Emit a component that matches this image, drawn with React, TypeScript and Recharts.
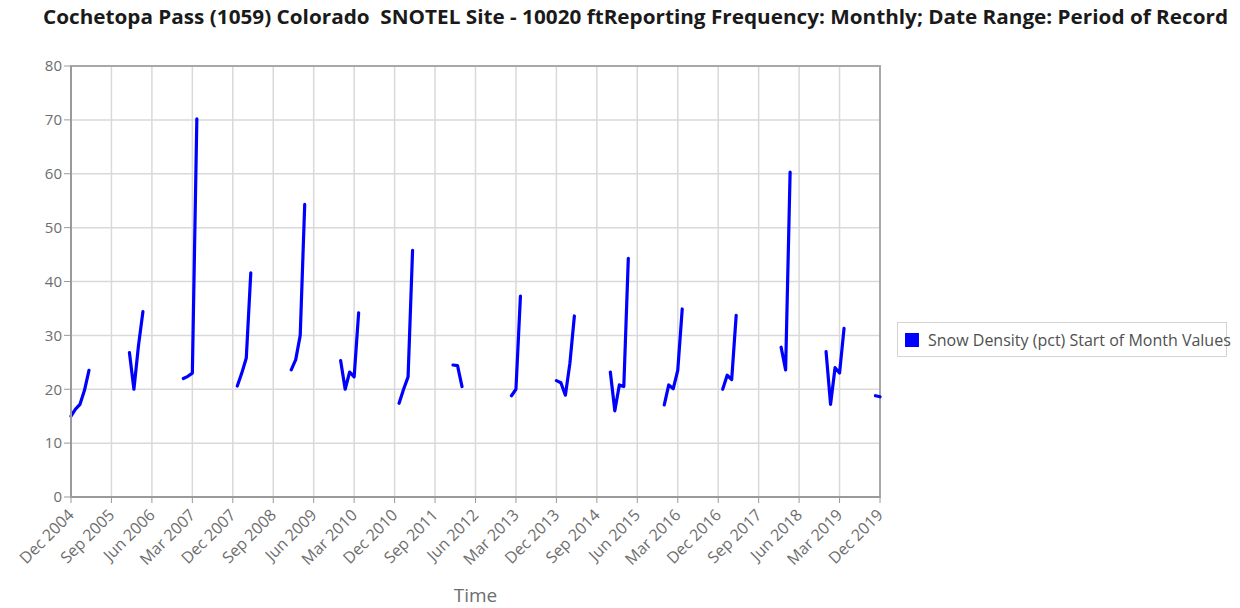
import React from 'react';
import {
  LineChart,
  Line,
  XAxis,
  YAxis,
  CartesianGrid,
  Label,
  ReferenceArea,
} from 'recharts';

const titleText =
  'Cochetopa Pass (1059) Colorado  SNOTEL Site - 10020 ftReporting Frequency: Monthly; Date Range: Period of Record';
const seriesName = 'Snow Density (pct) Start of Month Values';

// x tick labels, one every 9 months starting Dec 2004
const tickLabels = [
  'Dec 2004', 'Sep 2005', 'Jun 2006', 'Mar 2007', 'Dec 2007', 'Sep 2008', 'Jun 2009',
  'Mar 2010', 'Dec 2010', 'Sep 2011', 'Jun 2012', 'Mar 2013', 'Dec 2013', 'Sep 2014',
  'Jun 2015', 'Mar 2016', 'Dec 2016', 'Sep 2017', 'Jun 2018', 'Mar 2019', 'Dec 2019',
];
const tickStep = 9;
const yTicks = [0, 10, 20, 30, 40, 50, 60, 70, 80];

// months since Dec 2004 that have a reading
const obsMonths = [
  0, 1, 2, 3, 4,
  13, 14, 15, 16,
  25, 26, 27, 28,
  37, 38, 39, 40,
  49, 50, 51, 52,
  60, 61, 62, 63, 64,
  73, 74, 75, 76,
  85, 86, 87,
  98, 99, 100,
  108, 109, 110, 111, 112,
  120, 121, 122, 123, 124,
  132, 133, 134, 135, 136,
  145, 146, 147, 148,
  158, 159, 160,
  168, 169, 170, 171, 172,
  179, 180,
];
const obsDensity = [
  15, 16.3, 17.2, 19.8, 23.5,
  26.8, 20, 28, 34.4,
  22, 22.4, 23, 70.2,
  20.6, 23, 25.8, 41.6,
  23.6, 25.5, 30, 54.3,
  25.3, 20, 23.2, 22.3, 34.2,
  17.4, 20, 22.3, 45.8,
  24.5, 24.4, 20.5,
  18.8, 20, 37.3,
  21.6, 21.2, 18.9, 24.8, 33.6,
  23.2, 16, 20.8, 20.5, 44.3,
  17.1, 20.8, 20.1, 23.5, 34.9,
  20, 22.6, 21.8, 33.7,
  27.8, 23.6, 60.3,
  27, 17.2, 24, 23, 31.3,
  18.8, 18.6,
];

const lastMonth = (tickLabels.length - 1) * tickStep;
const xTicks = tickLabels.map((_, i) => i * tickStep);

const data = Array.from({ length: lastMonth + 1 }, (_, m) => {
  const idx = obsMonths.indexOf(m);
  return { m, density: idx >= 0 ? obsDensity[idx] : null };
});

const FONT = "'Open Sans', sans-serif";

const XTick = (props: any) => {
  const { x, y, payload } = props;
  const label = tickLabels[Math.round(payload.value / tickStep)];
  return (
    <text
      x={x + 4}
      y={y + 11}
      transform={`rotate(-45 ${x + 4} ${y + 11})`}
      textAnchor="end"
      fill="#6e6e6e"
      fontSize={16}
      fontFamily={FONT}
    >
      {label}
    </text>
  );
};

export default function App() {
  return (
    <div style={{ position: 'relative', width: 1240, height: 608, background: '#fff' }}>
      <style>{'body{margin:0}'}</style>
      <svg
        width={1240}
        height={40}
        style={{ position: 'absolute', left: 0, top: 0, zIndex: 2 }}
      >
        <text
          x={43}
          y={24}
          textLength={1185}
          lengthAdjust="spacingAndGlyphs"
          fontSize={19}
          fontWeight="bold"
          fontFamily={FONT}
          fill="#1a1a1a"
          style={{ whiteSpace: 'pre' }}
        >
          {titleText}
        </text>
      </svg>
      <div
        style={{
          position: 'absolute',
          left: 897,
          top: 322,
          width: 330,
          height: 35,
          border: '1px solid #d4d4d4',
          boxSizing: 'border-box',
          display: 'flex',
          alignItems: 'center',
          fontFamily: FONT,
          fontSize: 16,
          color: '#505050',
          whiteSpace: 'nowrap',
          zIndex: 2,
        }}
      >
        <span
          style={{
            display: 'inline-block',
            width: 14,
            height: 14,
            background: '#0000ff',
            marginLeft: 7,
            marginRight: 9,
            flexShrink: 0,
          }}
        />
        {seriesName}
      </div>
      <LineChart
        width={1240}
        height={608}
        data={data}
        margin={{ top: 66, right: 360, bottom: 0, left: 11 }}
      >
        <CartesianGrid stroke="#d9d9d9" strokeWidth={1.5} />
        <XAxis
          dataKey="m"
          type="number"
          domain={[0, lastMonth]}
          ticks={xTicks}
          interval={0}
          height={111}
          tick={<XTick />}
          tickSize={6}
          stroke="#9a9a9a"
          axisLine={{ stroke: '#9a9a9a', strokeWidth: 2 }}
          tickLine={{ stroke: '#9a9a9a' }}
        >
          <Label
            value="Time"
            position="insideBottom"
            offset={6}
            fill="#6e6e6e"
            fontSize={19}
            fontFamily={FONT}
          />
        </XAxis>
        <YAxis
          type="number"
          domain={[0, 80]}
          ticks={yTicks}
          width={60}
          tickSize={7}
          tick={{ fill: '#6e6e6e', fontSize: 15, fontFamily: FONT }}
          axisLine={{ stroke: '#9a9a9a', strokeWidth: 2 }}
          tickLine={{ stroke: '#9a9a9a' }}
        />
        <ReferenceArea
          x1={0}
          x2={lastMonth}
          y1={0}
          y2={80}
          fill="none"
          stroke="#a8a8a8"
          strokeWidth={2}
          ifOverflow="visible"
        />
        <Line
          name={seriesName}
          type="linear"
          dataKey="density"
          stroke="#0000ff"
          strokeWidth={3.2}
          strokeLinecap="round"
          strokeLinejoin="round"
          dot={false}
          connectNulls={false}
          isAnimationActive={false}
        />
      </LineChart>
    </div>
  );
}
